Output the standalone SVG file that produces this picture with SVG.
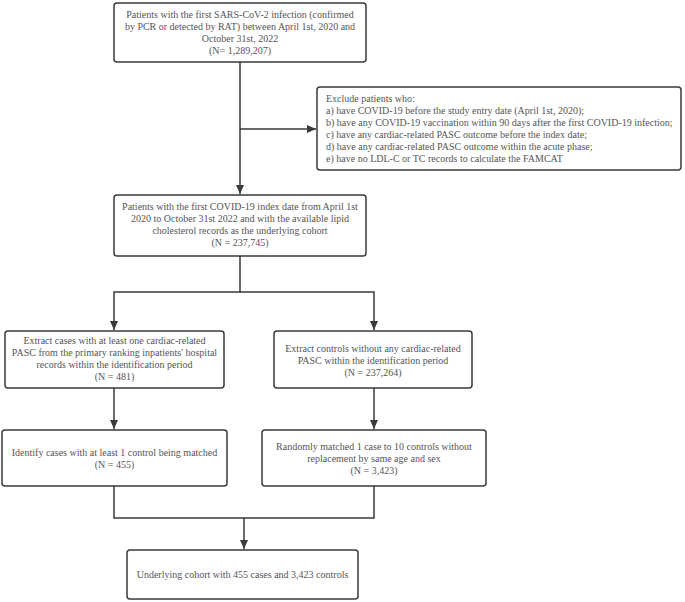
<svg xmlns="http://www.w3.org/2000/svg" width="685" height="602" viewBox="0 0 685 602">
<defs>
<marker id="arr" markerWidth="10" markerHeight="8" refX="9" refY="4" orient="auto" markerUnits="userSpaceOnUse">
<path d="M0,0 L9,4 L0,8 Z" fill="#3a3a3a"/>
</marker>
<style>
.box{fill:#fff;stroke:#3a3a3a;stroke-width:1.5}
.t{font-family:"Liberation Serif","Times New Roman",serif;font-size:10px;fill:#555}
.c{text-anchor:middle}
.ln{fill:none;stroke:#3a3a3a;stroke-width:1.5}
</style>
</defs>
<rect width="685" height="602" fill="#fff"/>
<g id="connectors">
<path class="ln" d="M240,62 L240,194" marker-end="url(#arr)"/>
<path class="ln" d="M240,129 L316,129" marker-end="url(#arr)"/>
<path class="ln" d="M240,256 L240,292 L114,292 L114,330"  marker-end="url(#arr)"/>
<path class="ln" d="M240,292 L374,292 L374,330" marker-end="url(#arr)"/>
<path class="ln" d="M114,388 L114,429" marker-end="url(#arr)"/>
<path class="ln" d="M374,388 L374,429" marker-end="url(#arr)"/>
<path class="ln" d="M114,486 L114,518 L374,518 L374,486"/>
<path class="ln" d="M244,518 L244,549" marker-end="url(#arr)"/>
</g>
<g id="n1">
<rect class="box" x="114" y="3" width="252" height="59" rx="3"/>
<text class="t c" x="240" y="18">Patients with the first SARS-CoV-2 infection (confirmed</text>
<text class="t c" x="240" y="30">by PCR or detected by RAT) between April 1st, 2020 and</text>
<text class="t c" x="240" y="42">October 31st, 2022</text>
<text class="t c" x="240" y="54">(N= 1,289,207)</text>
</g>
<g id="exclude">
<rect class="box" x="317" y="87" width="364" height="83" rx="3"/>
<text class="t" x="326" y="102">Exclude patients who:</text>
<text class="t" x="326" y="114">a) have COVID-19 before the study entry date (April 1st, 2020);</text>
<text class="t" x="326" y="126">b) have any COVID-19 vaccination within 90 days after the first COVID-19 infection;</text>
<text class="t" x="326" y="138">c) have any cardiac-related PASC outcome before the index date;</text>
<text class="t" x="326" y="150">d) have any cardiac-related PASC outcome within the acute phase;</text>
<text class="t" x="326" y="162">e) have no LDL-C or TC records to calculate the FAMCAT</text>
</g>
<g id="cohort">
<rect class="box" x="114" y="195" width="252" height="61" rx="3"/>
<text class="t c" x="240" y="210">Patients with the first COVID-19 index date from April 1st</text>
<text class="t c" x="240" y="222">2020 to October 31st 2022 and with the available lipid</text>
<text class="t c" x="240" y="234">cholesterol records as the underlying cohort</text>
<text class="t c" x="240" y="246">(N  = 237,745)</text>
</g>
<g id="cases">
<rect class="box" x="5" y="331" width="219" height="57" rx="3"/>
<text class="t c" x="114.5" y="344">Extract cases with at least one cardiac-related</text>
<text class="t c" x="114.5" y="356">PASC from the primary ranking inpatients' hospital</text>
<text class="t c" x="114.5" y="368">records within the identification period</text>
<text class="t c" x="114.5" y="380">(N = 481)</text>
</g>
<g id="controls">
<rect class="box" x="274" y="331" width="198" height="57" rx="3"/>
<text class="t c" x="373" y="352">Extract controls without any cardiac-related</text>
<text class="t c" x="373" y="364">PASC within the identification period</text>
<text class="t c" x="373" y="376">(N = 237,264)</text>
</g>
<g id="matched-cases">
<rect class="box" x="2" y="430" width="225" height="56" rx="3"/>
<text class="t c" x="114.5" y="456">Identify cases with at least 1 control being matched</text>
<text class="t c" x="114.5" y="468">(N = 455)</text>
</g>
<g id="matched-controls">
<rect class="box" x="262" y="430" width="224" height="56" rx="3"/>
<text class="t c" x="374" y="450">Randomly matched 1 case to 10 controls without</text>
<text class="t c" x="374" y="462">replacement by same age and sex</text>
<text class="t c" x="374" y="474">(N = 3,423)</text>
</g>
<g id="final">
<rect class="box" x="127" y="550" width="231" height="49" rx="3"/>
<text class="t c" x="242.5" y="578">Underlying cohort with 455 cases and 3,423 controls</text>
</g>
</svg>
